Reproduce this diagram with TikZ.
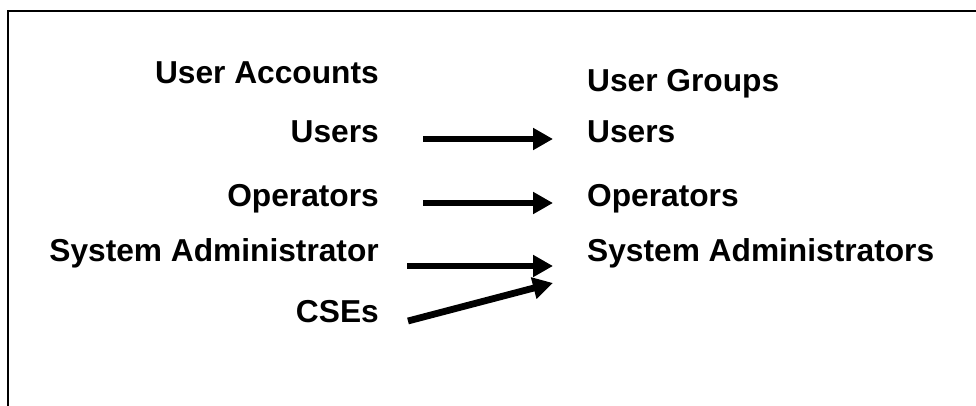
\documentclass[tikz,border=0pt]{standalone}
\usepackage{fontspec}
\setmainfont{Liberation Sans}
\usetikzlibrary{arrows.meta}
\begin{document}
\begin{tikzpicture}[x=1pt,y=-1pt,
  lbl/.style={inner sep=0pt,font=\fontsize{31.7}{36}\selectfont\bfseries},
  lft/.style={lbl,anchor=base east},
  rgt/.style={lbl,anchor=base west},
  link/.style={line width=6.8pt,-{Triangle[width=21pt,length=20pt]}},
  frame/.style={line width=2pt}]
\useasboundingbox (0,0) rectangle (976,406);
% frame (left and top edges)
\coordinate (fb) at (8.2,410);
\coordinate (fc) at (8.2,10.8);
\coordinate (fr) at (980,10.8);
\draw[frame] (fb) -- (fc) -- (fr);
% left column
\node[lft] (ua) at (379,84) {User Accounts};
\node[lft] (lu) at (379,143) {Users};
\node[lft] (lo) at (379,206) {Operators};
\node[lft] (ls) at (379,261) {System Administrator};
\node[lft] (lc) at (379,322) {CSEs};
% right column
\node[rgt] (ug) at (587,92) {User Groups};
\node[rgt] (ru) at (587,143) {Users};
\node[rgt] (ro) at (587,206) {Operators};
\node[rgt] (rs) at (587,261) {System Administrators};
% arrow end points
\coordinate (a1s) at (423,139);
\coordinate (a1e) at (553,139);
\coordinate (a2s) at (423,203);
\coordinate (a2e) at (553,203);
\coordinate (a3s) at (407,266);
\coordinate (a3e) at (553,266);
\coordinate (a4s) at (408,321);
\coordinate (a4e) at (553,283);
\draw[link] (a1s) -- (a1e);
\draw[link] (a2s) -- (a2e);
\draw[link] (a3s) -- (a3e);
\draw[link] (a4s) -- (a4e);
\end{tikzpicture}
\end{document}
